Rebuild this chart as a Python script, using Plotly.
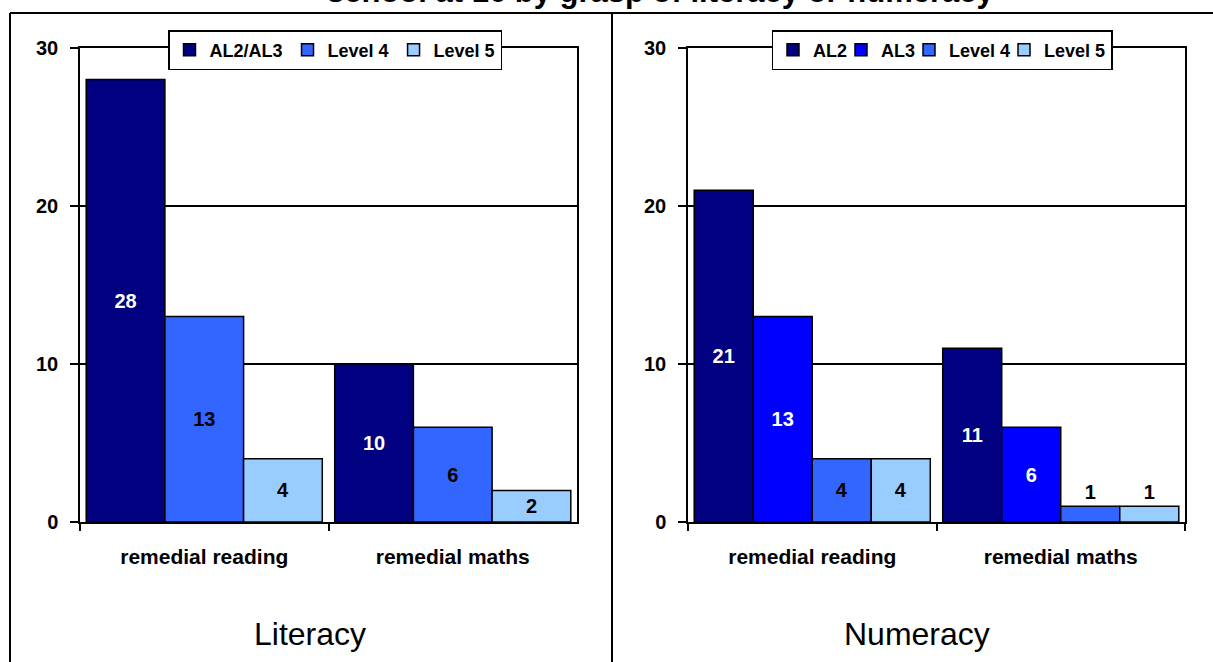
import plotly.graph_objects as go

# ---- data ----
categories = ["remedial reading", "remedial maths"]

lit_series = ["AL2/AL3", "Level 4", "Level 5"]
lit_al2_al3 = [28, 10]
lit_level4 = [13, 6]
lit_level5 = [4, 2]

num_series = ["AL2", "AL3", "Level 4", "Level 5"]
num_al2 = [21, 11]
num_al3 = [13, 6]
num_level4 = [4, 1]
num_level5 = [4, 1]

y_ticks = [0, 10, 20, 30]
title_text = "school at 16 by grasp of literacy or numeracy"
panel_titles = ["Literacy", "Numeracy"]

# ---- style ----
FONT = "Liberation Sans, Arial, sans-serif"
NAVY = "#000080"
BLUE = "#0000FF"
MID = "#3366FF"
LIGHT = "#99CCFF"
LEGEND_SIZE = 18

W, H = 1213, 662


def px_x(p):
    return p / W


def px_y(p):
    return 1 - p / H


# Arial/Liberation Sans Bold advance widths (em) for legend-entry sizing
_BOLD_W = {"A": .722, "L": .611, "2": .556, "3": .556, "4": .556, "5": .556,
           "/": .278, "e": .556, "v": .556, "l": .278, " ": .278}


def text_w(s, size):
    return sum(_BOLD_W.get(c, .556) for c in s) * size


fig = go.Figure()


def add_bar(name, vals, color, txtcolor, xa, ya, legend, lw=None):
    fig.add_trace(go.Bar(
        name=name, x=categories, y=vals,
        xaxis=xa, yaxis=ya, legend=legend, legendwidth=lw,
        marker=dict(color=color, line=dict(color="black", width=1.5)),
        text=[str(v) for v in vals], textposition="auto",
        insidetextanchor="middle", constraintext="none",
        textfont=dict(family=FONT, size=20, color=txtcolor, weight="bold"),
        insidetextfont=dict(family=FONT, size=20, color=txtcolor, weight="bold"),
        outsidetextfont=dict(family=FONT, size=20, color="black", weight="bold"),
        cliponaxis=False,
    ))


add_bar(lit_series[0], lit_al2_al3, NAVY, "white", "x", "y", "legend")
add_bar(lit_series[1], lit_level4, MID, "black", "x", "y", "legend")
add_bar(lit_series[2], lit_level5, LIGHT, "black", "x", "y", "legend")

tight = lambda s: max(1, round(text_w(s, LEGEND_SIZE) - 11))
add_bar(num_series[0], num_al2, NAVY, "white", "x2", "y2", "legend2", tight(num_series[0]))
add_bar(num_series[1], num_al3, BLUE, "white", "x2", "y2", "legend2", tight(num_series[1]))
add_bar(num_series[2], num_level4, MID, "black", "x2", "y2", "legend2", tight(num_series[2]))
add_bar(num_series[3], num_level5, LIGHT, "black", "x2", "y2", "legend2")

xaxis_common = dict(
    type="category", showline=True, linecolor="black", linewidth=1.5,
    mirror=True, ticks="outside", tickson="boundaries", ticklen=7,
    tickwidth=1.5, tickcolor="black", showgrid=False, automargin=False,
    tickfont=dict(family=FONT, size=21, color="black", weight="bold"),
    ticklabelstandoff=15,
)
yaxis_common = dict(
    range=[0, 30], tickvals=y_ticks, showline=True, linecolor="black",
    linewidth=1.5, mirror=True, ticks="outside", ticklen=8, tickwidth=1.5,
    tickcolor="black", showgrid=True, gridcolor="black", gridwidth=1.5,
    zeroline=False, automargin=False,
    tickfont=dict(family=FONT, size=20, color="black", weight="bold"),
    ticklabelstandoff=8,
)

legend_common = dict(
    orientation="h", bgcolor="white", bordercolor="black", borderwidth=1.5,
    font=dict(family=FONT, size=LEGEND_SIZE, color="black", weight="bold"),
    xanchor="center", yanchor="top", itemclick=False,
    tracegroupgap=0,
)

fig.update_layout(
    width=W, height=H, autosize=False,
    margin=dict(l=0, r=0, t=0, b=0, pad=0, autoexpand=False),
    paper_bgcolor="white", plot_bgcolor="white",
    barmode="group", bargap=0.05, bargroupgap=0,
    showlegend=True,
    xaxis=dict(domain=[px_x(80), px_x(577)], anchor="y", **xaxis_common),
    yaxis=dict(domain=[px_y(522), px_y(48)], anchor="x", **yaxis_common),
    xaxis2=dict(domain=[px_x(688), px_x(1185)], anchor="y2", **xaxis_common),
    yaxis2=dict(domain=[px_y(522), px_y(48)], anchor="x2", **yaxis_common),
    legend=dict(x=px_x(335), y=px_y(30), **legend_common),
    legend2=dict(x=px_x(942), y=px_y(30), **legend_common),
    uniformtext=dict(minsize=20, mode="show"),
)

# frame lines
frame_line = dict(color="black", width=2)
fig.add_shape(type="line", xref="paper", yref="paper",
              x0=px_x(10), x1=1, y0=px_y(13), y1=px_y(13), line=frame_line)
fig.add_shape(type="line", xref="paper", yref="paper",
              x0=px_x(10), x1=px_x(10), y0=px_y(13), y1=0, line=frame_line)
fig.add_shape(type="line", xref="paper", yref="paper",
              x0=px_x(612), x1=px_x(612), y0=px_y(13), y1=0, line=frame_line)

# titles
fig.add_annotation(text=title_text, xref="paper", yref="paper",
                   x=px_x(661), y=px_y(-9), xanchor="center", yanchor="middle",
                   showarrow=False,
                   font=dict(family=FONT, size=31, color="black", weight="bold"))
fig.add_annotation(text=panel_titles[0], xref="paper", yref="paper",
                   x=px_x(310), y=px_y(634), xanchor="center", yanchor="middle",
                   showarrow=False, font=dict(family=FONT, size=32, color="black"))
fig.add_annotation(text=panel_titles[1], xref="paper", yref="paper",
                   x=px_x(917), y=px_y(634), xanchor="center", yanchor="middle",
                   showarrow=False, font=dict(family=FONT, size=32, color="black"))

fig.write_html(
    "out.html",
    config={"displayModeBar": False},
    post_script="document.body.style.margin='0';document.body.style.overflow='hidden';",
)
